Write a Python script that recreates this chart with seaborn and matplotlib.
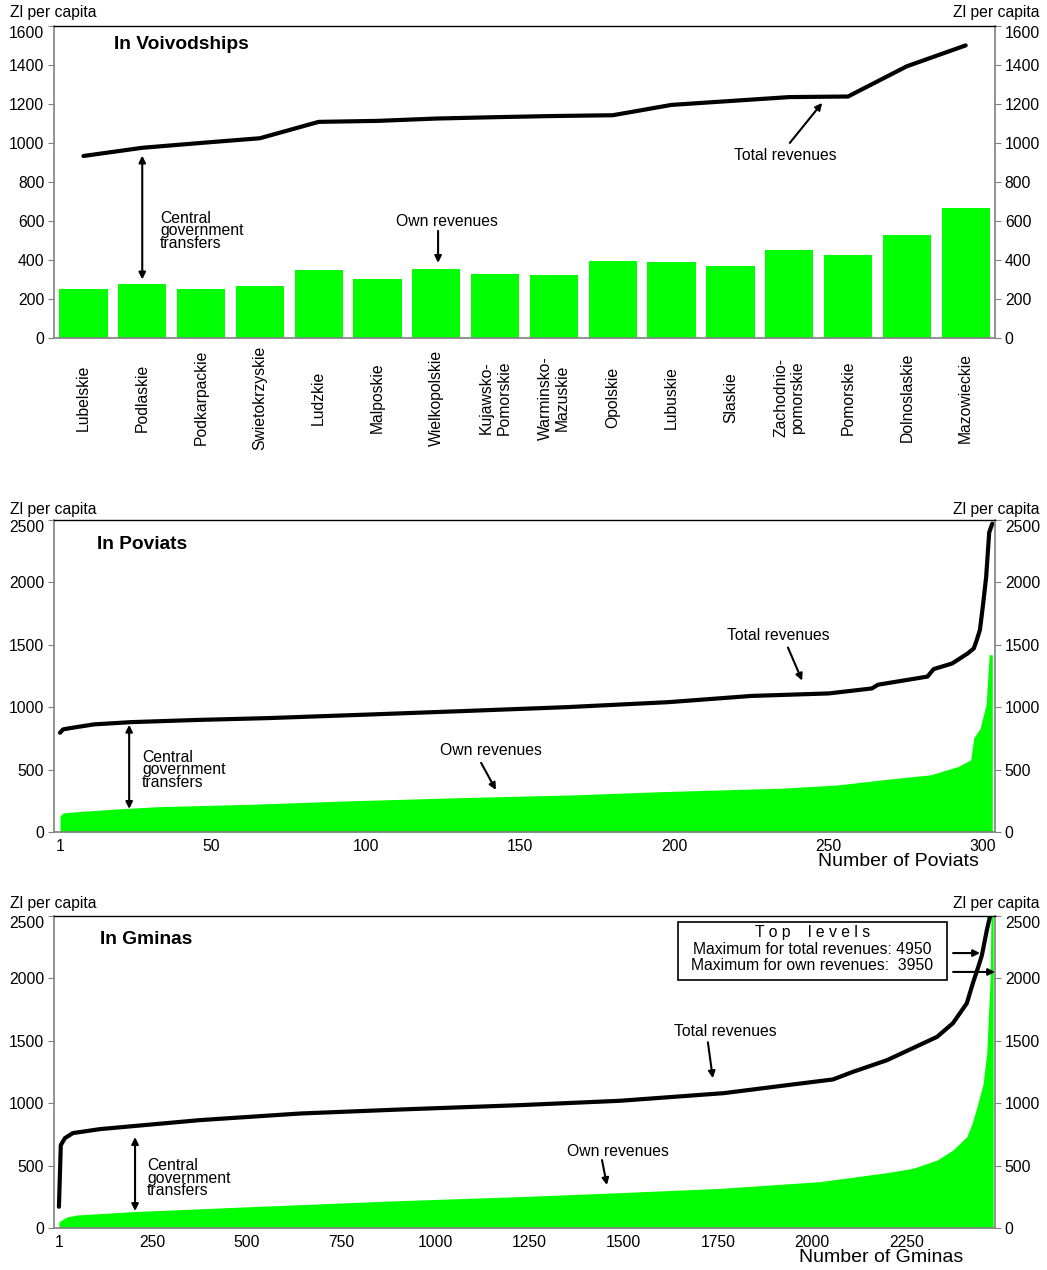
"""Own revenues vs total revenues per capita in voivodships, poviats and gminas."""

import matplotlib
matplotlib.use("Agg")
import matplotlib.pyplot as plt
import numpy as np
import pandas as pd
import seaborn as sns
from matplotlib.patches import Rectangle

# --- Voivodships (Zl per capita) ---
voivodships = ["Lubelskie", "Podlaskie", "Podkarpackie", "Swietokrzyskie", "Ludzkie",
               "Malposkie", "Wielkopolskie", "Kujawsko-\nPomorskie", "Warminsko-\nMazuskie",
               "Opolskie", "Lubuskie", "Slaskie", "Zachodnio-\npomorskie", "Pomorskie",
               "Dolnoslaskie", "Mazowieckie"]
voiv_own = [253, 278, 251, 267, 349, 303, 354, 326, 322, 395, 390, 371, 450, 427, 528, 667]
voiv_total = [933, 975, 1000, 1024, 1108, 1113, 1125, 1132, 1138, 1142, 1195, 1215, 1235,
              1238, 1393, 1500]

# --- Poviats: ranked values read at points along the curves ---
pov_own_rank = [1, 2, 5, 20, 33, 63, 94, 132, 167, 197, 235, 253, 270, 283, 292, 296, 297,
                299, 301, 302, 303]
pov_own = [128, 152, 160, 185, 203, 222, 249, 276, 297, 324, 351, 377, 425, 458, 525, 578,
           755, 827, 1020, 1420, 1420]
pov_total_rank = [1, 2, 5, 12, 24, 46, 68, 100, 133, 165, 198, 225, 250, 264, 266, 282, 284,
                  290, 295, 297, 298, 299, 300, 301, 302, 303]
pov_total = [795, 822, 835, 862, 880, 898, 912, 940, 970, 1000, 1040, 1090, 1110, 1150, 1180,
             1245, 1305, 1350, 1430, 1470, 1540, 1620, 1820, 2040, 2400, 2470]

# --- Gminas: ranked values read at points along the curves ---
gm_own_rank = [1, 22, 49, 198, 553, 906, 1224, 1490, 1755, 2020, 2198, 2267, 2331, 2373,
               2410, 2424, 2437, 2453, 2463, 2472, 2480]
gm_own = [50, 88, 104, 131, 176, 219, 251, 283, 317, 371, 443, 478, 544, 624, 731, 837, 971,
          1150, 1400, 2000, 3950]
gm_total_rank = [1, 6, 17, 38, 110, 198, 375, 641, 906, 1224, 1490, 1765, 1933, 2055, 2108,
                 2198, 2331, 2373, 2410, 2426, 2440, 2450, 2463, 2471, 2480]
gm_total = [170, 664, 720, 760, 792, 816, 864, 917, 949, 984, 1019, 1080, 1144, 1190, 1251,
            1344, 1531, 1640, 1800, 1960, 2088, 2184, 2384, 2488, 4950]

GREEN = "#00FF00"
FS = 11.3

sns.set_style("white")
plt.rcParams["font.family"] = ["Liberation Sans", "DejaVu Sans"]
plt.rcParams["text.color"] = "black"
plt.rcParams["xtick.labelcolor"] = "black"
plt.rcParams["ytick.labelcolor"] = "black"

fig = plt.figure(figsize=(10.47, 12.70), dpi=100)
ax1 = fig.add_axes([0.0516, 0.7339, 0.8988, 0.2457])
ax2 = fig.add_axes([0.0516, 0.3449, 0.8988, 0.2457])
ax3 = fig.add_axes([0.0516, 0.0331, 0.8988, 0.2457])


def style_axes(ax, ymax, step):
    ax.set_ylim(0, ymax)
    ax.set_yticks(range(0, ymax + 1, step))
    for side in ["left", "right", "bottom"]:
        ax.spines[side].set_color("#808080")
        ax.spines[side].set_linewidth(1.2)
    ax.spines["top"].set_color("black")
    ax.spines["top"].set_linewidth(1.0)
    ax.tick_params(axis="y", left=True, right=True, labelleft=True, labelright=True,
                   direction="out", length=4, width=0.8, color="#808080",
                   labelcolor="black", labelsize=FS, pad=3)
    # the top value label hangs just below the frame, as in the original
    top_tick = ax.yaxis.get_major_ticks()[-1]
    top_tick.label1.set_va("top")
    top_tick.label2.set_va("top")
    ax.set_xlabel("")
    ax.set_ylabel("")


def arrow(ax, start, end, both=False):
    ax.annotate("", xy=end, xytext=start,
                arrowprops=dict(arrowstyle="<|-|>" if both else "-|>", color="black",
                                lw=1.5, mutation_scale=10, shrinkA=0, shrinkB=0))


def transfers_note(ax, x, y):
    ax.text(x, y, "Central\ngovernment\ntransfers", fontsize=FS, ha="left", va="center",
            linespacing=0.8)


# Panel 1: voivodships
df1 = pd.DataFrame({"region": voivodships, "own": voiv_own, "total": voiv_total,
                    "pos": np.arange(len(voivodships))})
sns.barplot(data=df1, x="region", y="own", color=GREEN, saturation=1, width=0.82,
            linewidth=0, ax=ax1)
sns.lineplot(data=df1, x="pos", y="total", color="black", lw=3, ax=ax1)
ax1.set_xlim(-0.5, len(voivodships) - 0.5)
style_axes(ax1, 1600, 200)
ax1.set_xticks(range(len(voivodships)))
ax1.set_xticklabels(voivodships, rotation=90, va="center", ha="center",
                    multialignment="center", fontsize=FS)
ax1.tick_params(axis="x", direction="in", length=4, width=0.8, color="black",
                labelcolor="black", pad=43)

ax1.text(0.135, 0.939, "In Voivodships", transform=ax1.transAxes, fontsize=13.8,
         fontweight="bold", ha="center", va="center")
ax1.text(11.93, 938, "Total revenues", fontsize=FS, ha="center", va="center")
arrow(ax1, (12.01, 1000), (12.56, 1205))
ax1.text(6.18, 595, "Own revenues", fontsize=FS, ha="center", va="center")
arrow(ax1, (6.03, 549), (6.03, 385))
transfers_note(ax1, 1.30, 549)
arrow(ax1, (1.0, 935), (1.0, 300), both=True)

# Panel 2: poviats
ax2.fill_between(pov_own_rank, pov_own, color=GREEN, lw=0)
sns.lineplot(x=pov_total_rank, y=pov_total, color="black", lw=3, ax=ax2)
ax2.set_xlim(-0.94, 303.9)
style_axes(ax2, 2500, 500)
ax2.set_xticks([1, 50, 100, 150, 200, 250, 300])
ax2.tick_params(axis="x", length=0, labelsize=FS, labelcolor="black", pad=5)

ax2.text(0.0935, 0.92, "In Poviats", transform=ax2.transAxes, fontsize=13.8,
         fontweight="bold", ha="center", va="center")
ax2.text(233.6, 1574, "Total revenues", fontsize=FS, ha="center", va="center")
arrow(ax2, (236.8, 1478), (241.4, 1213))
ax2.text(140.6, 651, "Own revenues", fontsize=FS, ha="center", va="center")
arrow(ax2, (137.4, 554), (142.2, 337))
transfers_note(ax2, 27.6, 498)
arrow(ax2, (23.4, 859), (23.4, 185), both=True)

# Panel 3: gminas
ax3.fill_between(gm_own_rank, gm_own, color=GREEN, lw=0)
sns.lineplot(x=gm_total_rank, y=gm_total, color="black", lw=3, ax=ax3)
ax3.set_xlim(-12, 2485)
style_axes(ax3, 2500, 500)
ax3.set_xticks([1, 250, 500, 750, 1000, 1250, 1500, 1750, 2000, 2250])
ax3.tick_params(axis="x", length=0, labelsize=FS, labelcolor="black", pad=5)

ax3.text(0.098, 0.923, "In Gminas", transform=ax3.transAxes, fontsize=13.8,
         fontweight="bold", ha="center", va="center")
ax3.text(1768, 1576, "Total revenues", fontsize=FS, ha="center", va="center")
arrow(ax3, (1723, 1488), (1736, 1200))
ax3.text(1484, 616, "Own revenues", fontsize=FS, ha="center", va="center")
arrow(ax3, (1442, 544), (1455, 344))
transfers_note(ax3, 235, 400)
arrow(ax3, (203, 728), (203, 136), both=True)

# Top levels box
ax3.add_patch(Rectangle((0.663, 0.795), 0.286, 0.186, transform=ax3.transAxes,
                        fill=True, facecolor="white", edgecolor="black", lw=1.2, zorder=5))
ax3.text(0.806, 0.9455, "T o p    l e v e l s", transform=ax3.transAxes, fontsize=FS,
         ha="center", va="center", zorder=6)
ax3.text(0.806, 0.891, "Maximum for total revenues: 4950", transform=ax3.transAxes,
         fontsize=FS, ha="center", va="center", zorder=6)
ax3.text(0.806, 0.840, "Maximum for own revenues:  3950", transform=ax3.transAxes,
         fontsize=FS, ha="center", va="center", zorder=6)
for y0, x1 in [(0.881, 0.984), (0.8205, 1.0)]:
    ax3.annotate("", xy=(x1, y0), xytext=(0.9554, y0), xycoords="axes fraction",
                 arrowprops=dict(arrowstyle="-|>", color="black", lw=1.5,
                                 mutation_scale=10, shrinkA=0, shrinkB=0))

# Axis captions
for y in [0.9898, 0.5992, 0.2882]:
    fig.text(0.0096, y, "Zl per capita", fontsize=FS, ha="left", va="center")
    fig.text(0.9933, y, "Zl per capita", fontsize=FS, ha="right", va="center")
fig.text(0.858, 0.3213, "Number of Poviats", fontsize=14, ha="center", va="center")
fig.text(0.842, 0.0102, "Number of Gminas", fontsize=14, ha="center", va="center")

plt.savefig("out.png", dpi=100)
